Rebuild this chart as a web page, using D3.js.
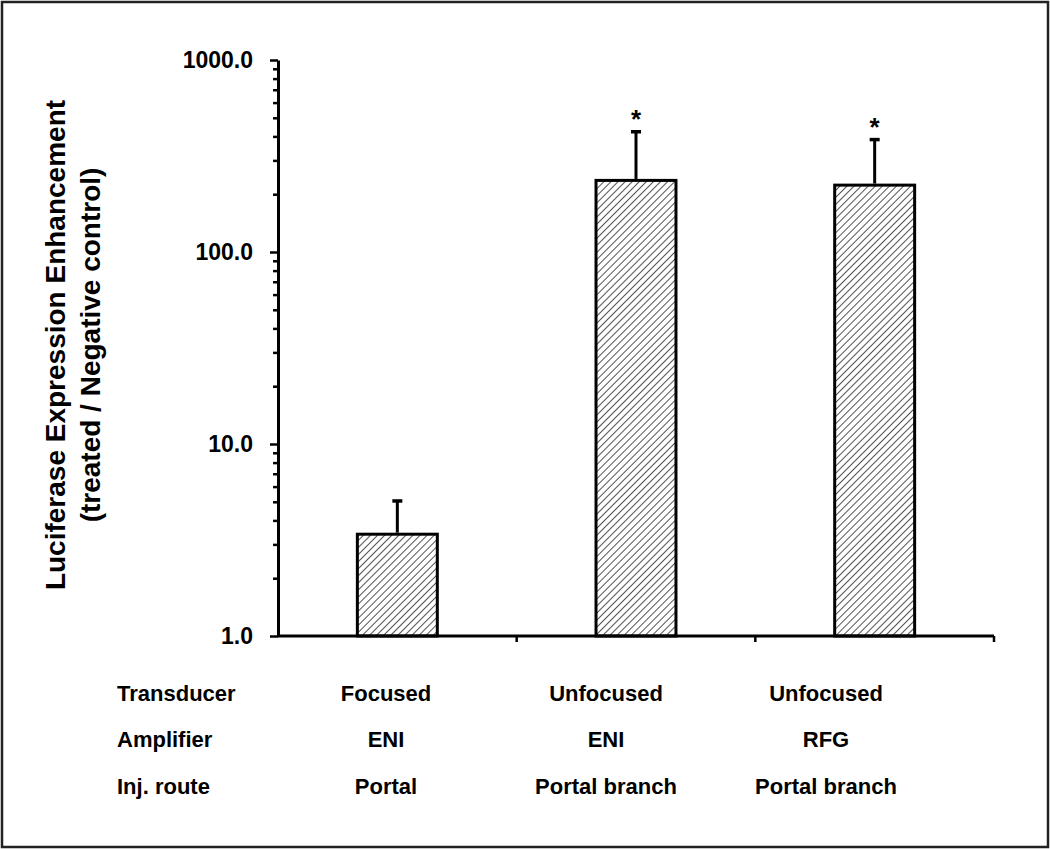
<!DOCTYPE html>
<meta charset="utf-8">
<style>
  body { margin: 0; background: #fff; }
  text { font-family: Arial, "Liberation Sans", sans-serif; font-weight: bold; fill: #000; }
</style>
<div id="chart"></div>
<script src="https://d3js.org/d3.v7.min.js"></script>
<script>
// chart values
var groups = ["g1", "g2", "g3"];
var means = [3.39, 236, 223];
var errTops = [5.05, 423, 385];
var significant = [false, true, true];
var yTickValues = [1, 10, 100, 1000];
var rowLabels = ["Transducer", "Amplifier", "Inj. route"];
var transducer = ["Focused", "Unfocused", "Unfocused"];
var amplifier = ["ENI", "ENI", "RFG"];
var route = ["Portal", "Portal branch", "Portal branch"];

var W = 1050, H = 849;
var svg = d3.select("#chart").append("svg")
  .attr("width", W).attr("height", H);

// outer frame
svg.append("rect")
  .attr("x", 2).attr("y", 2).attr("width", W - 4).attr("height", H - 4)
  .attr("fill", "#fff").attr("stroke", "#222").attr("stroke-width", 2.5);

// hatch pattern
svg.append("defs").append("pattern")
    .attr("id", "hatch")
    .attr("patternUnits", "userSpaceOnUse")
    .attr("width", 5).attr("height", 5)
    .attr("patternTransform", "rotate(45)")
  .append("line")
    .attr("x1", 0).attr("y1", 0).attr("x2", 0).attr("y2", 5)
    .attr("stroke", "#4a4a4a").attr("stroke-width", 1.9);

var x = d3.scaleBand().domain(groups).range([278, 994]);
var y = d3.scaleLog().domain([1, 1000]).range([636, 60]);
var barW = x.bandwidth() * 0.335;
function cx(g) { return x(g) + x.bandwidth() / 2; }

// y axis with minor ticks
var minor = [];
for (var d = 1; d < 1000; d *= 10) {
  for (var k = 2; k <= 9; k++) minor.push(d * k);
}
svg.append("g")
  .attr("transform", "translate(278,0)")
  .call(d3.axisLeft(y).tickValues(minor).tickSize(5).tickFormat(""))
  .call(function(g) { g.select(".domain").remove(); })
  .selectAll("line").attr("stroke", "#000").attr("stroke-width", 2.5);

var yAxis = svg.append("g")
  .attr("transform", "translate(278,0)")
  .call(d3.axisLeft(y).tickValues(yTickValues).tickSize(8).tickSizeOuter(0)
    .tickPadding(17).tickFormat(d3.format(".1f")));
yAxis.select(".domain").attr("stroke", "#000").attr("stroke-width", 3);
yAxis.selectAll(".tick line").attr("stroke", "#000").attr("stroke-width", 2.5);
yAxis.selectAll(".tick text").style("font-size", "23px")
  .style("font-family", "Arial, 'Liberation Sans', sans-serif").style("font-weight", "bold");

// bars
svg.selectAll(".bar").data(groups).enter().append("rect")
  .attr("class", "bar")
  .attr("x", function(g) { return cx(g) - barW / 2; })
  .attr("y", function(g, i) { return y(means[i]); })
  .attr("width", barW)
  .attr("height", function(g, i) { return y(1) - y(means[i]); })
  .attr("fill", "url(#hatch)")
  .attr("stroke", "#000").attr("stroke-width", 3);

// error bars
svg.selectAll(".err").data(groups).enter().append("line")
  .attr("x1", cx).attr("x2", cx)
  .attr("y1", function(g, i) { return y(means[i]) - 1.5; })
  .attr("y2", function(g, i) { return y(errTops[i]); })
  .attr("stroke", "#000").attr("stroke-width", 3);
svg.selectAll(".cap").data(groups).enter().append("line")
  .attr("x1", function(g) { return cx(g) - 5; })
  .attr("x2", function(g) { return cx(g) + 5; })
  .attr("y1", function(g, i) { return y(errTops[i]); })
  .attr("y2", function(g, i) { return y(errTops[i]); })
  .attr("stroke", "#000").attr("stroke-width", 3.5);

// significance stars
svg.selectAll(".star").data(groups.filter(function(g, i) { return significant[i]; }))
  .enter().append("text")
  .attr("x", cx)
  .attr("y", function(g) { return y(errTops[groups.indexOf(g)]) - 4; })
  .attr("text-anchor", "middle")
  .style("font-size", "26px")
  .text("*");

// x axis
svg.append("line")
  .attr("x1", 278).attr("x2", x.range()[1])
  .attr("y1", y(1)).attr("y2", y(1))
  .attr("stroke", "#000").attr("stroke-width", 3);
svg.selectAll(".xtick").data(groups).enter().append("line")
  .attr("x1", function(g) { return x(g) + x.step(); })
  .attr("x2", function(g) { return x(g) + x.step(); })
  .attr("y1", y(1)).attr("y2", y(1) + 6)
  .attr("stroke", "#000").attr("stroke-width", 2.5);

// y label
var ylab = svg.append("text")
  .attr("transform", "translate(55,345) rotate(-90)")
  .attr("text-anchor", "middle")
  .style("font-size", "28px");
ylab.append("tspan").attr("x", 0).attr("dy", "0.35em").text("Luciferase Expression Enhancement");
ylab.append("tspan").attr("x", 0).attr("dy", "1.25em").text("(treated / Negative control)");

// condition table under the axis
var col = d3.scalePoint().domain(groups).range([386, 826]);
var rows = [transducer, amplifier, route];
var rowY = d3.scalePoint().domain(rowLabels).range([693, 786]);
rowLabels.forEach(function(lab, r) {
  svg.append("text")
    .attr("x", 117).attr("y", rowY(lab)).attr("dy", "0.35em")
    .style("font-size", "22px").text(lab);
  svg.selectAll(".cell" + r).data(groups).enter().append("text")
    .attr("x", col)
    .attr("y", rowY(lab)).attr("dy", "0.35em")
    .attr("text-anchor", "middle")
    .style("font-size", "22px")
    .text(function(g, i) { return rows[r][i]; });
});
</script>
